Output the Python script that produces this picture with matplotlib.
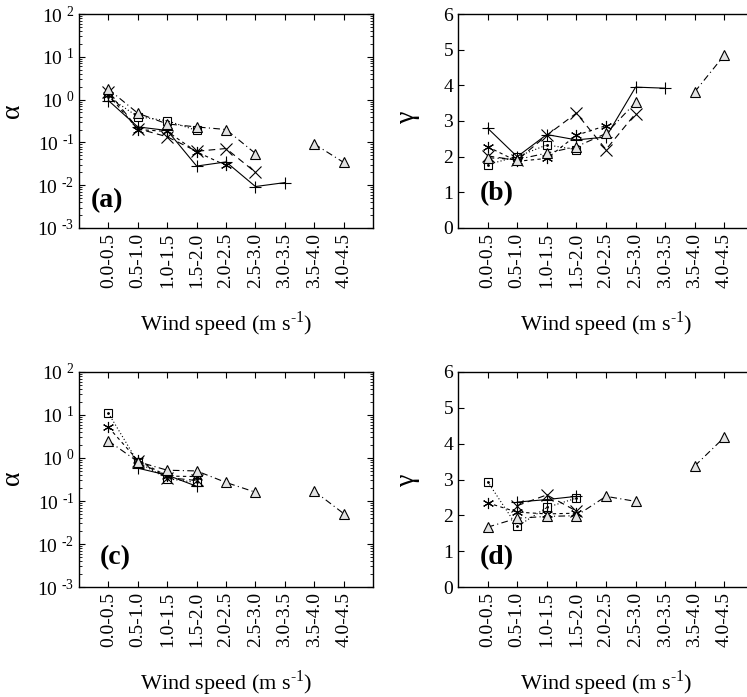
import numpy as np
import matplotlib
matplotlib.use('Agg')
import matplotlib.pyplot as plt

plt.rcParams['font.family'] = 'Liberation Serif'
plt.rcParams['mathtext.fontset'] = 'custom'
plt.rcParams['mathtext.rm'] = 'Liberation Serif'

nan = np.nan
cats = ['0.0-0.5', '0.5-1.0', '1.0-1.5', '1.5-2.0', '2.0-2.5',
        '2.5-3.0', '3.0-3.5', '3.5-4.0', '4.0-4.5']

# alpha, top row
a_plus = [0.95, 0.23, 0.19, 0.028, 0.035, 0.0093, 0.0115, nan, nan]
a_cross = [1.5, 0.21, 0.135, 0.062, 0.072, 0.020, nan, nan, nan]
a_star = [1.3, 0.20, 0.18, 0.060, 0.029, nan, nan, nan, nan]
a_square = [1.15, 0.40, 0.32, 0.19, nan, nan, nan, nan, nan]
a_tri = [1.75, 0.48, 0.27, 0.23, 0.20, 0.055, nan, 0.092, 0.034]

# gamma, top row
b_plus = [2.8, 2.0, 2.62, 2.47, 2.55, 3.95, 3.92, nan, nan]
b_cross = [2.02, 1.9, 2.6, 3.22, 2.2, 3.21, nan, nan, nan]
b_star = [2.28, 1.87, 1.95, 2.6, 2.87, nan, nan, nan, nan]
b_square = [1.78, 2.0, 2.33, 2.2, nan, nan, nan, nan, nan]
b_tri = [1.97, 1.92, 2.1, 2.28, 2.65, 3.52, nan, 3.82, 4.85]

# alpha, bottom row
c_plus = [nan, 0.58, 0.40, 0.22, nan, nan, nan, nan, nan]
c_cross = [nan, 0.85, 0.35, 0.30, nan, nan, nan, nan, nan]
c_star = [5.2, 0.88, 0.38, 0.37, nan, nan, nan, nan, nan]
c_square = [11.0, 0.80, 0.33, 0.27, nan, nan, nan, nan, nan]
c_tri = [2.5, 0.82, 0.52, 0.50, 0.27, 0.16, nan, 0.17, 0.051]

# gamma, bottom row
d_plus = [nan, 2.37, 2.44, 2.53, nan, nan, nan, nan, nan]
d_cross = [nan, 2.27, 2.57, 2.12, nan, nan, nan, nan, nan]
d_star = [2.35, 2.09, 2.04, 2.06, nan, nan, nan, nan, nan]
d_square = [2.94, 1.69, 2.22, 2.48, nan, nan, nan, nan, nan]
d_tri = [1.67, 1.92, 1.97, 1.99, 2.53, 2.39, nan, 3.38, 4.18]

# powers of ten on the log axes, hyphen instead of minus sign
log_exps = ['\u20103', '\u20102', '\u20101', '0', '1', '2']
log_ticks = [1e-3, 1e-2, 1e-1, 1e0, 1e1, 1e2]
log_labels = [r'$\mathregular{10^{\ %s}}$' % e for e in log_exps]

x = np.arange(1, len(cats) + 1)

styles = [
    dict(marker='+', ls='-', ms=9),
    dict(marker='x', ls=(0, (6, 4)), ms=8),
    dict(marker=(6, 2, 0), ls=(0, (3, 3)), ms=8),
    dict(marker='s', ls=(0, (1, 2)), ms=6, mfc='none'),
    dict(marker='^', ls=(0, (6, 3, 1, 3)), ms=6.5, mfc='#e2e2e2'),
]

fig = plt.figure(figsize=(7.47, 6.97), dpi=100)

panels = [
    ([0.1058, 0.6729, 0.3936, 0.3070], [a_plus, a_cross, a_star, a_square, a_tri],
     True, '\u03b1', '(a)', (-0.184, 0.55), (0.04, 0.13)),
    ([0.6131, 0.6729, 0.3963, 0.3070], [b_plus, b_cross, b_star, b_square, b_tri],
     False, '\u03b3', '(b)', (-0.128, 0.52), (0.074, 0.16)),
    ([0.1058, 0.1578, 0.3936, 0.3085], [c_plus, c_cross, c_star, c_square, c_tri],
     True, '\u03b1', '(c)', (-0.184, 0.51), (0.07, 0.135)),
    ([0.6131, 0.1578, 0.3963, 0.3085], [d_plus, d_cross, d_star, d_square, d_tri],
     False, '\u03b3', '(d)', (-0.128, 0.50), (0.074, 0.135)),
]

for rect, series, logy, ylab, tag, ylab_pos, tag_pos in panels:
    ax = fig.add_axes(rect)
    for ys, st in zip(series, styles):
        ax.plot(x, ys, color='black', lw=0.8, mew=0.8, clip_on=False, **st)
        if st['marker'] == 's':
            ax.plot(x, ys, ls='none', marker='.', ms=2, color='black')
    ax.set_xlim(0, 10)
    ax.set_xticks(x)
    ax.set_xticklabels(cats, rotation=90, fontsize=14)
    if logy:
        ax.set_yscale('log')
        ax.set_ylim(1e-3, 1e2)
        ax.set_yticks(log_ticks)
        ax.set_yticklabels(log_labels, fontsize=14)
    else:
        ax.set_ylim(0, 6)
        ax.set_yticks(range(7))
        ax.set_yticklabels([str(v) for v in range(7)], fontsize=14)
    ax.tick_params(which='both', direction='in', top=True, right=True)
    ax.tick_params(which='major', length=4.5, width=0.8)
    ax.tick_params(which='minor', length=2.5, width=0.6)
    ax.tick_params(axis='x', which='minor', top=False, bottom=False)
    for sp in ax.spines.values():
        sp.set_linewidth(1.0)
    ax.set_xlabel('Wind speed (m s$^{\\mathregular{\u20101}}$)', fontsize=16, labelpad=15)
    ax.set_ylabel(ylab, fontsize=20)
    ax.yaxis.set_label_coords(*ylab_pos)
    ax.text(tag_pos[0], tag_pos[1], tag, transform=ax.transAxes, fontsize=20,
            fontweight='bold', va='center', ha='left')

fig.savefig('out.png', dpi=100)
